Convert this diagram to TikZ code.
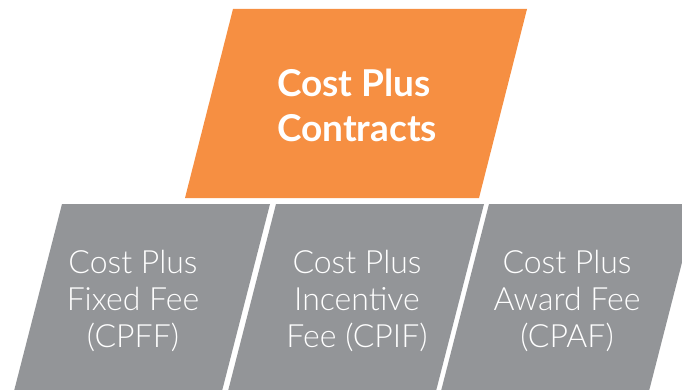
\documentclass[tikz,border=0pt]{standalone}
\usepackage{fontspec}
\setmainfont{Lato}
\newfontfamily\lightfont{Lato Light}
\definecolor{costorange}{HTML}{F68F42}
\definecolor{costgray}{HTML}{939598}

\begin{document}
\begin{tikzpicture}[x=1pt,y=-1pt,
  typebox/.style={fill=costgray},
  typelabel/.style={text=white,inner sep=0pt,align=center,
    font=\lightfont\fontsize{32}{37}\selectfont}]
\useasboundingbox (0,0) rectangle (682,390);
\clip (0,0) rectangle (682,390);

% main contract type
\fill[costorange] (233,9) -- (527,9) -- (479,198) -- (185,198) -- cycle;
\node[text=white,inner sep=0pt,align=left,
  font=\bfseries\fontsize{37}{45}\selectfont] (main) at (357,105)
  {Cost Plus\\Contracts};

% the three kinds
\fill[typebox] (62,204) -- (270,204) -- (221,395) -- (13,395) -- cycle;
\fill[typebox] (276,204) -- (484,204) -- (435,395) -- (227,395) -- cycle;
\fill[typebox] (489,204) -- (697,204) -- (648,395) -- (440,395) -- cycle;

\node[typelabel] (cpff) at (133,301) {Cost Plus\\Fixed Fee\\(CPFF)};
\node[typelabel] (cpif) at (357,301) {Cost Plus\\Incentive\\Fee (CPIF)};
\node[typelabel] (cpaf) at (567,301) {Cost Plus\\Award Fee\\(CPAF)};
\end{tikzpicture}
\end{document}
